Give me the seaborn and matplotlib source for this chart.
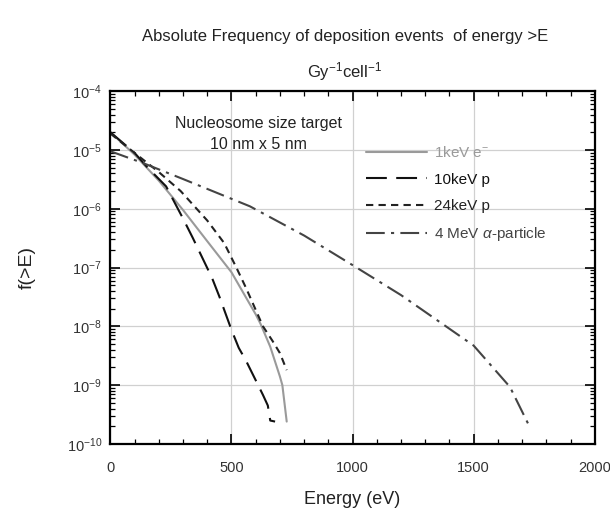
import numpy as np
import pandas as pd
import seaborn as sns
import matplotlib.pyplot as plt
from matplotlib.ticker import LogLocator, MultipleLocator, NullFormatter

# values (energy in eV, f(>E) per Gy per cell)
e_elec = [0, 100, 200, 300, 400, 500, 600, 620, 660, 700, 710, 728]
f_elec = [2.0e-5, 8.3e-6, 3.0e-6, 9.5e-7, 2.8e-7, 8.3e-8, 1.6e-8, 1.1e-8,
          4.5e-9, 1.4e-9, 1.0e-9, 2.4e-10]

e_p10 = [0, 100, 150, 230, 300, 340, 420, 450, 500, 530, 560, 605, 630, 650, 660, 680]
f_p10 = [2.0e-5, 8.9e-6, 5.2e-6, 2.4e-6, 6.8e-7, 3.2e-7, 6.6e-8, 3.2e-8, 8.7e-9,
         4.3e-9, 2.6e-9, 1.1e-9, 6.8e-10, 4.5e-10, 2.5e-10, 2.4e-10]

e_p24 = [0, 100, 200, 290, 400, 470, 520, 560, 630, 670, 700, 728]
f_p24 = [1.9e-5, 8.9e-6, 4.2e-6, 2.0e-6, 6.3e-7, 2.6e-7, 1.0e-7, 4.5e-8,
         1.0e-8, 5.6e-9, 3.5e-9, 1.8e-9]

e_alpha = [0, 134, 300, 576, 800, 1000, 1200, 1500, 1650, 1725]
f_alpha = [9.5e-6, 6.0e-6, 3.2e-6, 1.1e-6, 3.5e-7, 1.1e-7, 3.4e-8, 4.7e-9,
           9.3e-10, 2.2e-10]

labels = ['1keV e$^{-}$', '10keV p', '24keV p', r'4 MeV $\alpha$-particle']
x_ticks = [0, 500, 1000, 1500, 2000]

frames = []
for lab, e, f in zip(labels, [e_elec, e_p10, e_p24, e_alpha],
                     [f_elec, f_p10, f_p24, f_alpha]):
    frames.append(pd.DataFrame({'E': e, 'f': f, 'src': lab}))
df = pd.concat(frames, ignore_index=True)

sns.set_style('ticks')
plt.rcParams['font.family'] = ['Liberation Sans', 'DejaVu Sans']
plt.rcParams['mathtext.fontset'] = 'custom'
plt.rcParams['mathtext.rm'] = 'Liberation Sans'
plt.rcParams['mathtext.it'] = 'Liberation Sans:italic'

fig = plt.figure(figsize=(6.1, 5.15), dpi=100)
ax = fig.add_axes([0.181, 0.138, 0.794, 0.685])

palette = {labels[0]: '#9a9a9a', labels[1]: '#111111',
           labels[2]: '#222222', labels[3]: '#444444'}
dashes = {labels[0]: '', labels[1]: (10, 4.5),
          labels[2]: (3.5, 2.5), labels[3]: (9, 3, 1.5, 3)}

sns.lineplot(data=df, x='E', y='f', hue='src', style='src', palette=palette,
             dashes=dashes, estimator=None, sort=False, linewidth=1.5,
             ax=ax, legend=True)

ax.set_yscale('log')
ax.set_xlim(0, 2000)
ax.set_ylim(1e-10, 1e-4)
ax.set_xticks(x_ticks)
ax.xaxis.set_minor_locator(MultipleLocator(100))
ax.yaxis.set_major_locator(LogLocator(base=10, numticks=10))
ax.yaxis.set_minor_locator(LogLocator(base=10, subs=np.arange(2, 10), numticks=20))
ax.yaxis.set_minor_formatter(NullFormatter())

ax.grid(True, which='major', color='#d0d0d0', linewidth=0.9)
ax.tick_params(which='both', direction='in', top=True, right=True,
               labelsize=10.5, colors='black', labelcolor='#333333')
ax.tick_params(which='major', length=7, width=1.2)
ax.tick_params(which='minor', length=3.5, width=0.9)
ax.tick_params(axis='x', pad=12)
ax.tick_params(axis='y', pad=6)
for s in ax.spines.values():
    s.set_linewidth(1.6)
    s.set_color('black')

ax.set_xlabel('Energy (eV)', fontsize=13, color='#222222', labelpad=12)
ax.set_ylabel('f(>E)', fontsize=14, color='#222222', labelpad=22)

ax.text(0.305, 0.93, 'Nucleosome size target\n10 nm x 5 nm', transform=ax.transAxes,
        ha='center', va='top', fontsize=11.5, color='#222222', linespacing=1.5)

leg = ax.legend(loc='upper left', bbox_to_anchor=(0.50, 0.885), frameon=False,
                fontsize=11, handlelength=4.0, handletextpad=0.4,
                labelspacing=0.8, labelcolor='linecolor')
leg.get_texts()[0].set_color('#9a9a9a')

fig.text(0.565, 0.93, 'Absolute Frequency of deposition events  of energy >E',
         ha='center', va='center', fontsize=12, color='#222222')
fig.text(0.565, 0.862, 'Gy$^{-1}$cell$^{-1}$', ha='center', va='center',
         fontsize=12, color='#222222')

fig.savefig('out.png', dpi=100)
